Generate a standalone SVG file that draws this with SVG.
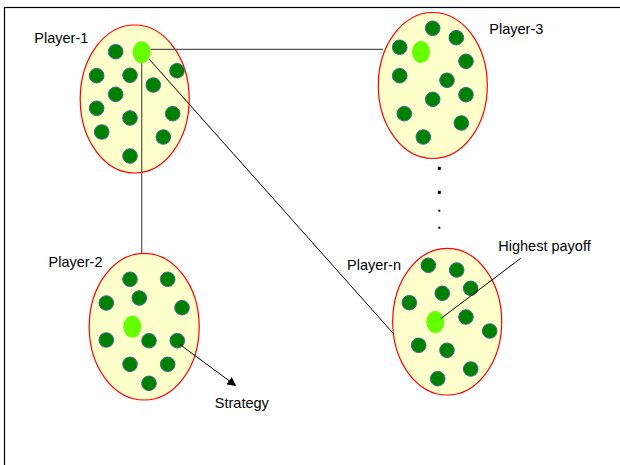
<svg xmlns="http://www.w3.org/2000/svg" width="620" height="465" viewBox="0 0 620 465">
  <defs>
    <style>
      .frame { fill: #ffffff; stroke: #000000; stroke-width: 1.2; }
      .group { fill: #ffffcc; stroke: #ff0000; stroke-width: 1.2; }
      .dot { fill: #008000; stroke: #3a6a99; stroke-width: 1; }
      .best { fill: #66ff00; stroke: none; }
      .link { fill: none; stroke: #000000; stroke-width: 1; }
      .link-gray { fill: none; stroke: #555555; stroke-width: 1.2; }
      .label { font-family: "Liberation Sans", Arial, sans-serif; font-size: 14.5px; fill: #000000; }
      .ellip { fill: #000000; }
    </style>
    <marker id="arrow" viewBox="0 0 10 10" refX="9" refY="5" markerWidth="9" markerHeight="9" markerUnits="userSpaceOnUse" orient="auto">
      <path d="M0,0 L10,5 L0,10 z" fill="#000000"/>
    </marker>
  </defs>

  <!-- page frame -->
  <rect class="frame" x="4.5" y="7.5" width="630" height="470"/>

  <!-- Player-1 -->
  <g id="player-1">
    <ellipse class="group" cx="134.7" cy="99" rx="54.5" ry="74"/>
    <circle class="dot" cx="115.7" cy="51.7" r="7.3"/>
    <circle class="dot" cx="177" cy="70.7" r="7.3"/>
    <circle class="dot" cx="96.7" cy="75.7" r="7.3"/>
    <circle class="dot" cx="130" cy="75.3" r="7.3"/>
    <circle class="dot" cx="153.3" cy="85" r="7.3"/>
    <circle class="dot" cx="115.7" cy="94.3" r="7.3"/>
    <circle class="dot" cx="96.7" cy="108.3" r="7.3"/>
    <circle class="dot" cx="172.7" cy="113.7" r="7.3"/>
    <circle class="dot" cx="130" cy="118" r="7.3"/>
    <circle class="dot" cx="101.7" cy="132" r="7.3"/>
    <circle class="dot" cx="163.3" cy="137" r="7.3"/>
    <circle class="dot" cx="130" cy="156" r="7.3"/>
    <ellipse class="best" cx="141.7" cy="52.3" rx="9" ry="11"/>
    <text class="label" x="34.3" y="42.5">Player-1</text>
  </g>

  <!-- Player-3 -->
  <g id="player-3">
    <ellipse class="group" cx="432.8" cy="85.5" rx="54.5" ry="73"/>
    <circle class="dot" cx="432.7" cy="28.3" r="7.3"/>
    <circle class="dot" cx="456.3" cy="37.7" r="7.3"/>
    <circle class="dot" cx="399.7" cy="47.3" r="7.3"/>
    <circle class="dot" cx="466" cy="61.3" r="7.3"/>
    <circle class="dot" cx="399.7" cy="75.7" r="7.3"/>
    <circle class="dot" cx="447" cy="80.3" r="7.3"/>
    <circle class="dot" cx="466" cy="94.7" r="7.3"/>
    <circle class="dot" cx="432.7" cy="99.3" r="7.3"/>
    <circle class="dot" cx="404.3" cy="113.7" r="7.3"/>
    <circle class="dot" cx="461.3" cy="123" r="7.3"/>
    <circle class="dot" cx="423.3" cy="137" r="7.3"/>
    <ellipse class="best" cx="421" cy="52" rx="9" ry="11"/>
    <text class="label" x="489.3" y="34">Player-3</text>
  </g>

  <!-- Player-2 -->
  <g id="player-2">
    <ellipse class="group" cx="144.2" cy="326.7" rx="55" ry="73.3"/>
    <circle class="dot" cx="130" cy="279.3" r="7.3"/>
    <circle class="dot" cx="167.7" cy="279.3" r="7.3"/>
    <circle class="dot" cx="106.3" cy="303" r="7.3"/>
    <circle class="dot" cx="139.3" cy="298" r="7.3"/>
    <circle class="dot" cx="182" cy="307.7" r="7.3"/>
    <circle class="dot" cx="106.3" cy="340" r="7.3"/>
    <circle class="dot" cx="149" cy="340.7" r="7.3"/>
    <circle class="dot" cx="177.3" cy="340.7" r="7.3"/>
    <circle class="dot" cx="130" cy="364.3" r="7.3"/>
    <circle class="dot" cx="167.7" cy="364.3" r="7.3"/>
    <circle class="dot" cx="149" cy="383.3" r="7.3"/>
    <ellipse class="best" cx="132.3" cy="326.7" rx="9" ry="11"/>
    <text class="label" x="48.5" y="266.5">Player-2</text>
  </g>

  <!-- Player-n -->
  <g id="player-n">
    <ellipse class="group" cx="447.2" cy="321.7" rx="54.5" ry="73.3"/>
    <circle class="dot" cx="428.3" cy="265.3" r="7.3"/>
    <circle class="dot" cx="456.7" cy="270" r="7.3"/>
    <circle class="dot" cx="470.7" cy="288.3" r="7.3"/>
    <circle class="dot" cx="442.3" cy="293.3" r="7.3"/>
    <circle class="dot" cx="409.3" cy="302.7" r="7.3"/>
    <circle class="dot" cx="466" cy="317" r="7.3"/>
    <circle class="dot" cx="489.7" cy="331" r="7.3"/>
    <circle class="dot" cx="418.7" cy="345.3" r="7.3"/>
    <circle class="dot" cx="447" cy="350.3" r="7.3"/>
    <circle class="dot" cx="470.7" cy="369" r="7.3"/>
    <circle class="dot" cx="437.7" cy="378.7" r="7.3"/>
    <ellipse class="best" cx="435.3" cy="322" rx="9" ry="11"/>
    <text class="label" x="347" y="270">Player-n</text>
  </g>

  <!-- vertical ellipsis between Player-3 and Player-n -->
  <g id="ellipsis">
    <rect class="ellip" x="437.8" y="166.8" width="3" height="3"/>
    <rect class="ellip" x="437.8" y="190.8" width="3" height="3"/>
    <rect class="ellip" x="438.3" y="209.7" width="2" height="2"/>
    <rect class="ellip" x="438.3" y="226.7" width="2" height="2"/>
  </g>

  <!-- connectors, drawn above the player groups -->
  <g id="connectors">
    <line class="link-gray" x1="150.5" y1="49.3" x2="383" y2="49.3"/>
    <line class="link-gray" x1="141.7" y1="63.3" x2="141.7" y2="253"/>
    <line class="link" x1="149" y1="59" x2="393.3" y2="333.5"/>
    <line class="link" x1="440.7" y1="318.7" x2="520.7" y2="258.3"/>
    <line class="link" x1="180" y1="344.5" x2="235.5" y2="385.5" marker-end="url(#arrow)"/>
  </g>

  <!-- annotations -->
  <g id="annotations">
    <text class="label" x="498.3" y="250.5">Highest payoff</text>
    <text class="label" x="214.8" y="408">Strategy</text>
  </g>
</svg>
